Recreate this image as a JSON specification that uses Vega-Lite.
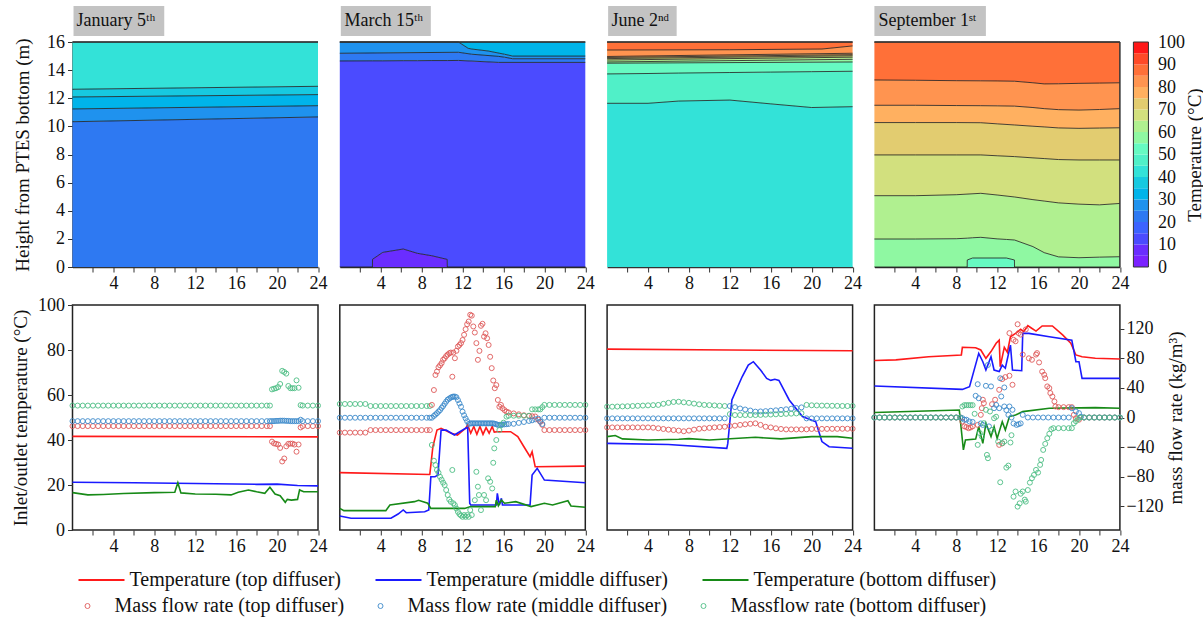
{
"$schema":"https://vega.github.io/schema/vega-lite/v6.json",
"padding":{"left":10.5,"top":6,"right":5,"bottom":3},
"config":{"font":"Liberation Serif","view":{"stroke":null},
 "axis":{"labelFont":"Liberation Serif","titleFont":"Liberation Serif","labelFontSize":18,"titleFontSize":19,"titleFontWeight":"normal","labelColor":"#111","titleColor":"#111","domainColor":"#333","tickColor":"#333","grid":false,"labelOverlap":false,"labelFlush":false},
 "legend":{"labelFont":"Liberation Serif","titleFont":"Liberation Serif","labelFontSize":20,"labelColor":"#111","titleColor":"#111"}},
"datasets":{
"tj":[{"h":0,"lo":0,"hi":10.33,"t":20},{"h":24,"lo":0,"hi":10.67,"t":20},{"h":0,"lo":10.33,"hi":11.24,"t":25},{"h":24,"lo":10.67,"hi":11.47,"t":25},{"h":0,"lo":11.24,"hi":12.09,"t":30},{"h":24,"lo":11.47,"hi":12.26,"t":30},{"h":0,"lo":12.09,"hi":12.64,"t":35},{"h":24,"lo":12.26,"hi":12.85,"t":35},{"h":0,"lo":12.64,"hi":16,"t":40},{"h":24,"lo":12.85,"hi":16,"t":40}],
"tm":[{"h":0,"lo":0,"hi":0,"t":5},{"h":3.19,"lo":0,"hi":0,"t":5},{"h":3.2,"lo":0,"hi":0.55,"t":5},{"h":4.2,"lo":0,"hi":1.04,"t":5},{"h":6.2,"lo":0,"hi":1.28,"t":5},{"h":7.6,"lo":0,"hi":0.97,"t":5},{"h":9,"lo":0,"hi":0.8,"t":5},{"h":10.5,"lo":0,"hi":0.54,"t":5},{"h":10.51,"lo":0,"hi":0,"t":5},{"h":24,"lo":0,"hi":0,"t":5},
{"h":0,"lo":0,"hi":14.65,"t":10},{"h":3.19,"lo":0,"hi":14.66,"t":10},{"h":3.2,"lo":0.55,"hi":14.66,"t":10},{"h":4.2,"lo":1.04,"hi":14.66,"t":10},{"h":6.2,"lo":1.28,"hi":14.67,"t":10},{"h":7.6,"lo":0.97,"hi":14.67,"t":10},{"h":9,"lo":0.8,"hi":14.68,"t":10},{"h":10.5,"lo":0.54,"hi":14.68,"t":10},{"h":10.51,"lo":0,"hi":14.68,"t":10},{"h":11.6,"lo":0,"hi":14.69,"t":10},{"h":15.5,"lo":0,"hi":14.55,"t":10},{"h":24,"lo":0,"hi":14.55,"t":10},
{"h":0,"lo":14.65,"hi":15.2,"t":20},{"h":11.6,"lo":14.69,"hi":15.27,"t":20},{"h":12.9,"lo":14.65,"hi":15.13,"t":20},{"h":15.5,"lo":14.55,"hi":14.98,"t":20},{"h":16.1,"lo":14.55,"hi":14.92,"t":20},{"h":16.9,"lo":14.55,"hi":14.81,"t":20},{"h":24,"lo":14.55,"hi":14.81,"t":20},
{"h":0,"lo":15.2,"hi":16,"t":25},{"h":11.6,"lo":15.27,"hi":16,"t":25},{"h":12.55,"lo":15.17,"hi":15.55,"t":25},{"h":12.9,"lo":15.13,"hi":15.5,"t":25},{"h":14.5,"lo":15.02,"hi":15.36,"t":25},{"h":16.1,"lo":14.92,"hi":15.13,"t":25},{"h":16.9,"lo":14.81,"hi":15.0,"t":25},{"h":24,"lo":14.81,"hi":15.0,"t":25},
{"h":0,"lo":16,"hi":16,"t":30},{"h":11.6,"lo":16,"hi":16,"t":30},{"h":12.55,"lo":15.55,"hi":16,"t":30},{"h":12.9,"lo":15.5,"hi":16,"t":30},{"h":14.5,"lo":15.36,"hi":16,"t":30},{"h":16.1,"lo":15.13,"hi":16,"t":30},{"h":16.9,"lo":15.0,"hi":16,"t":30},{"h":24,"lo":15.0,"hi":16,"t":30}],
"tn":[{"h":0,"lo":0,"hi":11.64,"t":40},{"h":4,"lo":0,"hi":11.64,"t":40},{"h":7,"lo":0,"hi":11.8,"t":40},{"h":12,"lo":0,"hi":11.87,"t":40},{"h":16,"lo":0,"hi":11.6,"t":40},{"h":20,"lo":0,"hi":11.34,"t":40},{"h":24,"lo":0,"hi":11.4,"t":40},
{"h":0,"lo":11.64,"hi":13.73,"t":45},{"h":4,"lo":11.64,"hi":13.76,"t":45},{"h":7,"lo":11.8,"hi":13.79,"t":45},{"h":12,"lo":11.87,"hi":13.83,"t":45},{"h":16,"lo":11.6,"hi":13.86,"t":45},{"h":20,"lo":11.34,"hi":13.89,"t":45},{"h":24,"lo":11.4,"hi":13.92,"t":45},
{"h":0,"lo":13.73,"hi":14.49,"t":50},{"h":24,"lo":13.92,"hi":14.58,"t":50},
{"h":0,"lo":14.49,"hi":14.58,"t":55},{"h":24,"lo":14.58,"hi":14.77,"t":55},
{"h":0,"lo":14.58,"hi":14.72,"t":60},{"h":24,"lo":14.77,"hi":14.92,"t":60},
{"h":0,"lo":14.72,"hi":14.82,"t":65},{"h":24,"lo":14.92,"hi":15.02,"t":65},
{"h":0,"lo":14.82,"hi":14.9,"t":70},{"h":24,"lo":15.02,"hi":15.1,"t":70},
{"h":0,"lo":14.9,"hi":14.97,"t":75},{"h":24,"lo":15.1,"hi":15.2,"t":75},
{"h":0,"lo":14.97,"hi":15.43,"t":80},{"h":12,"lo":15.08,"hi":15.45,"t":80},{"h":21,"lo":15.17,"hi":15.5,"t":80},{"h":24,"lo":15.2,"hi":15.72,"t":80},
{"h":0,"lo":15.43,"hi":16,"t":85},{"h":12,"lo":15.45,"hi":16,"t":85},{"h":21,"lo":15.5,"hi":16,"t":85},{"h":24,"lo":15.72,"hi":16,"t":85}],
"ts":[{"h":0,"lo":0,"hi":0,"t":50},{"h":9.07,"lo":0,"hi":0,"t":50},{"h":9.08,"lo":0,"hi":0.5,"t":50},{"h":9.6,"lo":0,"hi":0.64,"t":50},{"h":12.9,"lo":0,"hi":0.64,"t":50},{"h":13.69,"lo":0,"hi":0.5,"t":50},{"h":13.7,"lo":0,"hi":0,"t":50},{"h":24,"lo":0,"hi":0,"t":50},
{"h":0,"lo":0,"hi":1.99,"t":55},{"h":4,"lo":0,"hi":1.99,"t":55},{"h":8,"lo":0,"hi":2.01,"t":55},{"h":9.07,"lo":0,"hi":2.05,"t":55},{"h":9.08,"lo":0.5,"hi":2.05,"t":55},{"h":9.6,"lo":0.64,"hi":2.08,"t":55},{"h":10.4,"lo":0.64,"hi":2.11,"t":55},{"h":12,"lo":0.64,"hi":2.0,"t":55},{"h":12.9,"lo":0.64,"hi":1.96,"t":55},{"h":13.69,"lo":0.5,"hi":1.92,"t":55},{"h":13.7,"lo":0,"hi":1.92,"t":55},{"h":15.5,"lo":0,"hi":1.45,"t":55},{"h":16.6,"lo":0,"hi":1.02,"t":55},{"h":18,"lo":0,"hi":0.72,"t":55},{"h":20,"lo":0,"hi":0.66,"t":55},{"h":22,"lo":0,"hi":0.7,"t":55},{"h":24,"lo":0,"hi":0.73,"t":55},
{"h":0,"lo":1.99,"hi":5.07,"t":60},{"h":4,"lo":1.99,"hi":5.07,"t":60},{"h":8,"lo":2.01,"hi":5.14,"t":60},{"h":10.4,"lo":2.11,"hi":5.24,"t":60},{"h":12,"lo":2.0,"hi":5.12,"t":60},{"h":13.7,"lo":1.92,"hi":4.98,"t":60},{"h":15.5,"lo":1.45,"hi":4.79,"t":60},{"h":16.6,"lo":1.02,"hi":4.69,"t":60},{"h":18,"lo":0.72,"hi":4.56,"t":60},{"h":20,"lo":0.66,"hi":4.47,"t":60},{"h":22,"lo":0.7,"hi":4.42,"t":60},{"h":24,"lo":0.73,"hi":4.52,"t":60},
{"h":0,"lo":5.07,"hi":7.97,"t":65},{"h":4,"lo":5.07,"hi":7.97,"t":65},{"h":8,"lo":5.14,"hi":7.97,"t":65},{"h":10.4,"lo":5.24,"hi":7.97,"t":65},{"h":12,"lo":5.12,"hi":7.91,"t":65},{"h":13.7,"lo":4.98,"hi":7.85,"t":65},{"h":15.5,"lo":4.79,"hi":7.76,"t":65},{"h":16.6,"lo":4.69,"hi":7.71,"t":65},{"h":18,"lo":4.56,"hi":7.64,"t":65},{"h":20,"lo":4.47,"hi":7.61,"t":65},{"h":22,"lo":4.42,"hi":7.61,"t":65},{"h":24,"lo":4.52,"hi":7.61,"t":65},
{"h":0,"lo":7.97,"hi":10.27,"t":70},{"h":4,"lo":7.97,"hi":10.27,"t":70},{"h":8,"lo":7.97,"hi":10.27,"t":70},{"h":10.4,"lo":7.97,"hi":10.26,"t":70},{"h":12,"lo":7.91,"hi":10.18,"t":70},{"h":13.7,"lo":7.85,"hi":10.1,"t":70},{"h":15.5,"lo":7.76,"hi":10.01,"t":70},{"h":16.6,"lo":7.71,"hi":9.96,"t":70},{"h":18,"lo":7.64,"hi":9.89,"t":70},{"h":20,"lo":7.61,"hi":9.86,"t":70},{"h":22,"lo":7.61,"hi":9.88,"t":70},{"h":24,"lo":7.61,"hi":9.9,"t":70},
{"h":0,"lo":10.27,"hi":11.5,"t":75},{"h":4,"lo":10.27,"hi":11.5,"t":75},{"h":8,"lo":10.27,"hi":11.48,"t":75},{"h":10.4,"lo":10.26,"hi":11.47,"t":75},{"h":12,"lo":10.18,"hi":11.46,"t":75},{"h":13.7,"lo":10.1,"hi":11.44,"t":75},{"h":15.5,"lo":10.01,"hi":11.34,"t":75},{"h":16.6,"lo":9.96,"hi":11.26,"t":75},{"h":18,"lo":9.89,"hi":11.19,"t":75},{"h":20,"lo":9.86,"hi":11.16,"t":75},{"h":22,"lo":9.88,"hi":11.2,"t":75},{"h":24,"lo":9.9,"hi":11.26,"t":75},
{"h":0,"lo":11.5,"hi":13.3,"t":80},{"h":4,"lo":11.5,"hi":13.28,"t":80},{"h":8,"lo":11.48,"hi":13.25,"t":80},{"h":10.4,"lo":11.47,"hi":13.24,"t":80},{"h":12,"lo":11.46,"hi":13.23,"t":80},{"h":13.7,"lo":11.44,"hi":13.21,"t":80},{"h":15.5,"lo":11.34,"hi":13.1,"t":80},{"h":16.6,"lo":11.26,"hi":13.02,"t":80},{"h":18,"lo":11.19,"hi":13.03,"t":80},{"h":20,"lo":11.16,"hi":13.06,"t":80},{"h":22,"lo":11.2,"hi":13.08,"t":80},{"h":24,"lo":11.26,"hi":13.1,"t":80},
{"h":0,"lo":13.3,"hi":16,"t":85},{"h":4,"lo":13.28,"hi":16,"t":85},{"h":8,"lo":13.25,"hi":16,"t":85},{"h":10.4,"lo":13.24,"hi":16,"t":85},{"h":12,"lo":13.23,"hi":16,"t":85},{"h":13.7,"lo":13.21,"hi":16,"t":85},{"h":15.5,"lo":13.1,"hi":16,"t":85},{"h":16.6,"lo":13.02,"hi":16,"t":85},{"h":18,"lo":13.03,"hi":16,"t":85},{"h":20,"lo":13.06,"hi":16,"t":85},{"h":22,"lo":13.08,"hi":16,"t":85},{"h":24,"lo":13.1,"hi":16,"t":85}],
"cbar":[{"t":0,"t2":5},{"t":5,"t2":10},{"t":10,"t2":15},{"t":15,"t2":20},{"t":20,"t2":25},{"t":25,"t2":30},{"t":30,"t2":35},{"t":35,"t2":40},{"t":40,"t2":45},{"t":45,"t2":50},{"t":50,"t2":55},{"t":55,"t2":60},{"t":60,"t2":65},{"t":65,"t2":70},{"t":70,"t2":75},{"t":75,"t2":80},{"t":80,"t2":85},{"t":85,"t2":90},{"t":90,"t2":95},{"t":95,"t2":100}],
"bj":[{"h":0,"tt":41.6,"tm":21.2,"tb":16.6},{"h":1.5,"tb":15.6},{"h":3,"tb":15.8},{"h":5,"tb":16.2},{"h":6,"tm":21.0},{"h":8,"tb":16.6},{"h":10,"tb":16.8},{"h":10.3,"tb":21},{"h":10.6,"tb":16.5},{"h":12,"tm":20.7,"tb":16},{"h":14,"tb":15.9},{"h":15.5,"tb":15.6},{"h":16.2,"tb":16.8},{"h":17.2,"tb":17.8},{"h":18,"tm":20.3,"tb":17},{"h":18.8,"tb":16.3},{"h":19.3,"tb":19},{"h":19.8,"tb":16},{"h":20,"tm":20.4},{"h":20.3,"tb":15.2},{"h":20.8,"tb":12.3},{"h":21,"tb":13.6},{"h":21.4,"tb":13.3},{"h":22,"tm":19.8,"tb":13.6},{"h":22.2,"tb":17.8},{"h":22.6,"tb":17},{"h":24,"tt":41.4,"tm":19.6,"tb":17},
{"h":0,"mt":-11.6,"mm":-4.9,"mb":16.1},{"h":0.5,"mt":-11.6,"mm":-4.9,"mb":16.1},{"h":1,"mt":-11.6,"mm":-4.9,"mb":16.1},{"h":1.5,"mt":-11.6,"mm":-4.9,"mb":16.1},{"h":2,"mt":-11.6,"mm":-4.9,"mb":16.1},{"h":2.5,"mt":-11.6,"mm":-4.9,"mb":16.1},{"h":3,"mt":-11.6,"mm":-4.9,"mb":16.1},{"h":3.5,"mt":-11.6,"mm":-4.9,"mb":16.1},{"h":4,"mt":-11.6,"mm":-4.9,"mb":16.1},{"h":4.5,"mt":-11.6,"mm":-4.9,"mb":16.1},{"h":5,"mt":-11.6,"mm":-4.9,"mb":16.1},{"h":5.5,"mt":-11.6,"mm":-4.9,"mb":16.1},{"h":6,"mt":-11.6,"mm":-4.9,"mb":16.1},{"h":6.5,"mt":-11.6,"mm":-4.9,"mb":16.1},{"h":7,"mt":-11.6,"mm":-4.9,"mb":16.1},{"h":7.5,"mt":-11.6,"mm":-4.9,"mb":16.1},{"h":8,"mt":-11.6,"mm":-4.9,"mb":16.1},{"h":8.5,"mt":-11.6,"mm":-4.9,"mb":16.1},{"h":9,"mt":-11.6,"mm":-4.9,"mb":16.1},{"h":9.5,"mt":-11.6,"mm":-4.9,"mb":16.1},{"h":10,"mt":-11.6,"mm":-4.9,"mb":16.1},{"h":10.5,"mt":-11.6,"mm":-4.9,"mb":16.1},{"h":11,"mt":-11.6,"mm":-4.9,"mb":16.1},{"h":11.5,"mt":-11.6,"mm":-4.9,"mb":16.1},{"h":12,"mt":-11.6,"mm":-4.9,"mb":16.1},{"h":12.5,"mt":-11.6,"mm":-4.9,"mb":16.1},{"h":13,"mt":-11.6,"mm":-4.9,"mb":16.1},{"h":13.5,"mt":-11.6,"mm":-4.9,"mb":16.1},{"h":14,"mt":-11.6,"mm":-4.9,"mb":16.1},{"h":14.5,"mt":-11.6,"mm":-4.9,"mb":16.1},{"h":15,"mt":-11.6,"mm":-4.9,"mb":16.1},{"h":15.5,"mt":-11.6,"mm":-4.9,"mb":16.1},{"h":16,"mt":-11.6,"mm":-4.9,"mb":16.1},{"h":16.5,"mt":-11.6,"mm":-4.9,"mb":16.1},{"h":17,"mt":-11.6,"mm":-4.9,"mb":16.1},{"h":17.5,"mt":-11.6,"mm":-4.9,"mb":16.1},{"h":18,"mt":-11.6,"mm":-4.9,"mb":16.1},{"h":18.5,"mt":-11.6,"mm":-4.9,"mb":16.1},{"h":19,"mt":-11.6,"mm":-4.9,"mb":16.1},{"h":19.3,"mt":-11.6,"mm":-4.9,"mb":16.1},
{"h":19.5,"mt":-32.6,"mm":-4.9,"mb":38.0},{"h":19.7,"mt":-35.0,"mm":-4.9,"mb":38.9},{"h":19.9,"mt":-35.6,"mm":-4.6,"mb":39.6},{"h":20.1,"mt":-36.5,"mm":-4.6,"mb":41.1},{"h":20.3,"mt":-41.1,"mm":-4.3,"mb":45.3},{"h":20.5,"mt":-59.4,"mm":-4.3,"mb":63.0},{"h":20.7,"mt":-55.4,"mm":-4.3,"mb":61.5},{"h":20.9,"mt":-38.9,"mm":-4.6,"mb":59.3},{"h":21.1,"mt":-35.6,"mm":-4.6,"mb":42.6},{"h":21.3,"mt":-35.3,"mm":-4.9,"mb":39.6},{"h":21.5,"mt":-35.3,"mm":-4.9,"mb":39.6},{"h":21.7,"mt":-36.5,"mm":-4.9,"mb":39.6},{"h":21.9,"mt":-46.2,"mm":-4.9,"mb":50.2},{"h":22.1,"mt":-36.5,"mm":-4.9,"mb":40.2},{"h":22.3,"mt":-13.4,"mm":-3.0,"mb":16.7},{"h":22.5,"mt":-11.6,"mm":-4.9,"mb":16.1},{"h":23,"mt":-11.6,"mm":-4.9,"mb":16.1},{"h":23.5,"mt":-11.6,"mm":-4.9,"mb":16.1},{"h":24,"mt":-11.6,"mm":-4.9,"mb":16.1}],
"bm":[{"h":0,"tt":25.5,"tm":6.2,"tb":9.6},{"h":0.4,"tb":8.6},{"h":1.1,"tm":5.2},{"h":4.5,"tb":8.6},{"h":4.9,"tb":11.1},{"h":5,"tm":5.2},{"h":5.7,"tm":7.1},{"h":6.2,"tm":8.9},{"h":6.5,"tm":7.7},{"h":7.3,"tb":12.6},{"h":7.7,"tb":13.2},{"h":8.3,"tm":8.1},{"h":8.6,"tb":11.9},{"h":8.7,"tm":8.9},{"h":8.8,"tt":24.7},{"h":8.9,"tm":23.7,"tb":9.6},{"h":9.1,"tt":37},{"h":9.3,"tm":23.7},{"h":9.5,"tt":44.4},{"h":9.6,"tm":24.4},{"h":9.9,"tt":45.2,"tm":44.4},{"h":10.4,"tm":44.4},{"h":10.9,"tt":43},{"h":11.2,"tm":42.2},{"h":11.5,"tt":42.2},{"h":12.2,"tb":9.6},{"h":12.3,"tt":45.2,"tm":45.2},{"h":12.5,"tt":46.7,"tm":45.6},{"h":12.7,"tm":11.9},{"h":12.8,"tt":43,"tm":11.1,"tb":10.4},{"h":13.1,"tt":46},{"h":13.4,"tt":42.5},{"h":13.7,"tt":46},{"h":14.0,"tt":42.5},{"h":14.3,"tt":45.5},{"h":14.6,"tt":43},{"h":14.9,"tt":46},{"h":15.1,"tt":43.5},{"h":15.2,"tb":10.4},{"h":15.3,"tm":11.1,"tb":13.3},{"h":15.4,"tt":43.7,"tm":16.3},{"h":15.5,"tb":10.8},{"h":15.6,"tm":11.1},{"h":15.8,"tm":14.1,"tb":13.3},{"h":15.9,"tm":11.1},{"h":16.1,"tb":11.9},{"h":16.7,"tt":43.7},{"h":17.2,"tb":12.6},{"h":17.4,"tt":41.5},{"h":18,"tt":37},{"h":18.6,"tt":32.6,"tm":11.1},{"h":18.7,"tb":10.4},{"h":18.8,"tt":34.8,"tm":24.4},{"h":19.1,"tt":28.1},{"h":19.3,"tm":27.4},{"h":20,"tm":22.2,"tb":11.9},{"h":20.8,"tb":11.1},{"h":22.3,"tb":13},{"h":22.6,"tb":10.7},{"h":24,"tt":28.4,"tm":21,"tb":10.1},
{"h":0,"mt":-20.4,"mm":-0.3,"mb":18.3},{"h":0.5,"mt":-20.4,"mm":-0.3,"mb":18.3},{"h":1,"mt":-20.4,"mm":-0.3,"mb":18.3},{"h":1.5,"mt":-20.4,"mm":-0.3,"mb":18.3},{"h":2,"mt":-20.4,"mm":-0.3,"mb":18.3},{"h":2.5,"mt":-20.4,"mm":-0.3,"mb":18.3},{"h":3,"mt":-17,"mm":-0.3,"mb":15.5},{"h":3.5,"mt":-17,"mm":-0.3,"mb":15.5},{"h":4,"mt":-17,"mm":-0.3,"mb":15.5},{"h":4.5,"mt":-17,"mm":-0.3,"mb":15.5},{"h":5,"mt":-17,"mm":-0.3,"mb":15.5},{"h":5.5,"mt":-17,"mm":-0.3,"mb":15.5},{"h":6,"mt":-17,"mm":-0.3,"mb":15.5},{"h":6.5,"mt":-17,"mm":-0.3,"mb":15.5},{"h":7,"mt":-17,"mm":-0.3,"mb":15.5},{"h":7.5,"mt":-17,"mm":-0.3,"mb":15.5},{"h":8,"mt":-17,"mm":-0.3,"mb":15.5},{"h":8.5,"mt":-17,"mm":-0.3,"mb":15.5},{"h":8.8,"mt":-17,"mm":-0.3,"mb":15.5},
{"h":9.0,"mt":17.0,"mm":-0.3,"mb":-37.1},{"h":9.2,"mt":37.1,"mm":2.1,"mb":-58.4},{"h":9.35,"mt":57.5,"mm":4.0,"mb":-64.2},{"h":9.5,"mt":62.1,"mm":5.8,"mb":-70.9},{"h":9.65,"mt":67.9,"mm":8.0,"mb":-74.6},{"h":9.8,"mt":70.5,"mm":10.0,"mb":-80.1},{"h":9.95,"mt":73.4,"mm":13.0,"mb":-84},{"h":10.1,"mt":77.9,"mm":15.5,"mb":-88},{"h":10.25,"mt":80,"mm":18.5,"mb":-91.3},{"h":10.4,"mt":83,"mm":21.5,"mb":-98},{"h":10.55,"mt":85,"mm":24.2,"mb":-104.7},{"h":10.7,"mt":86.8,"mm":25.5,"mb":-110.8},{"h":10.85,"mt":87.7,"mm":27.0,"mb":-113.8},{"h":11.0,"mt":55.1,"mm":27.8,"mb":-70.9},{"h":11.1,"mt":87.7,"mm":28.3,"mb":-116},{"h":11.25,"mt":80.1,"mm":28.3,"mb":-118.4},{"h":11.4,"mt":90.1,"mm":27.4,"mb":-123},{"h":11.55,"mt":95.9,"mm":23.5,"mb":-127.5},{"h":11.7,"mt":98,"mm":19,"mb":-130.6},{"h":11.85,"mt":100.5,"mm":14.6,"mb":-132.5},{"h":12.0,"mt":104.7,"mm":7.9,"mb":-134.2},{"h":12.15,"mt":111.7,"mm":3,"mb":-131.8},{"h":12.3,"mt":119.3,"mm":-1.2,"mb":-134.2},{"h":12.45,"mt":126,"mm":-5,"mb":-131.8},{"h":12.6,"mt":129.7,"mm":-8.8,"mb":-134.2},{"h":12.75,"mt":138.8,"mm":-7.9,"mb":-125.1},{"h":12.9,"mt":137.6,"mm":-7.9,"mb":-131.8},{"h":13.05,"mt":123,"mm":-7.9},{"h":13.2,"mt":114.8,"mm":-7.9,"mb":-111.7},{"h":13.35,"mt":100.5,"mm":-7.9,"mb":-73.4},{"h":13.5,"mt":77.9,"mm":-7.9,"mb":-93.5},{"h":13.6,"mb":-104.7},{"h":13.65,"mt":90,"mm":-7.9},{"h":13.8,"mt":123.9,"mm":-7.9,"mb":-125.1},{"h":13.95,"mt":126.6,"mm":-7.9},{"h":14.1,"mt":109.3,"mm":-7.9,"mb":-104.7},{"h":14.25,"mt":113.8,"mm":-7.9},{"h":14.3,"mb":-111.7},{"h":14.4,"mt":107,"mm":-7.9},{"h":14.5,"mb":-82.2},{"h":14.55,"mt":98,"mm":-7.9},{"h":14.7,"mt":82,"mm":-7.9,"mb":-86.8},{"h":14.85,"mt":66.7,"mm":-7.9},{"h":14.9,"mb":-95.9},{"h":15.0,"mt":50,"mm":-8,"mb":-61.2},{"h":15.1,"mb":-41.7},{"h":15.15,"mt":39.6,"mm":-8.5},{"h":15.3,"mt":43.8,"mm":-9,"mb":-30.4},{"h":15.45,"mt":23.7,"mm":-10},{"h":15.6,"mt":14.6,"mm":-10,"mb":-17},{"h":15.75,"mt":17,"mm":-10},{"h":15.8,"mb":-10},{"h":15.9,"mt":12.5,"mm":-9.5},{"h":16.0,"mb":-7},{"h":16.1,"mt":10,"mm":-9.3},{"h":16.3,"mt":7.9,"mm":-9,"mb":1.2},{"h":16.5,"mt":6.8,"mm":-8.8,"mb":2.4},{"h":17,"mt":5.5,"mm":-8.5,"mb":2.4},{"h":17.5,"mt":4.3,"mm":-7.3,"mb":2.4},{"h":18,"mt":3,"mm":-6.1,"mb":2.4},{"h":18.5,"mt":2.1,"mm":-4.7,"mb":2.4},{"h":18.8,"mt":1.7,"mm":-3.8,"mb":11},{"h":19.1,"mt":1.4,"mm":-2.5,"mb":11},{"h":19.4,"mt":-3,"mm":-1.5,"mb":11},{"h":19.6,"mt":-5.8,"mm":-5.5,"mb":11},{"h":19.8,"mt":-10,"mm":-8.8,"mb":14},
{"h":20,"mt":-17,"mm":-0.3,"mb":17},{"h":20.5,"mt":-17,"mm":-0.3,"mb":17},{"h":21,"mt":-17,"mm":-0.3,"mb":17},{"h":21.5,"mt":-17,"mm":-0.3,"mb":17},{"h":22,"mt":-17,"mm":-0.3,"mb":17},{"h":22.5,"mt":-17,"mm":-0.3,"mb":17},{"h":23,"mt":-17,"mm":-0.3,"mb":17},{"h":23.5,"mt":-17,"mm":-0.3,"mb":17},{"h":24,"mt":-17,"mm":-0.3,"mb":17}],
"bn":[{"h":0,"tt":80.4,"tm":38.5,"tb":41.5},{"h":0.8,"tb":42},{"h":1.5,"tb":40.5},{"h":4,"tb":40},{"h":6,"tm":38},{"h":7,"tb":40.3},{"h":8,"tb":40.6},{"h":10,"tb":40},{"h":11.7,"tm":36.3},{"h":11.8,"tm":38.5},{"h":12,"tt":80},{"h":12.2,"tm":57.8},{"h":13.2,"tm":68.1},{"h":13.8,"tm":73.3},{"h":14.3,"tm":74.8},{"h":14.5,"tb":41.2},{"h":15,"tm":71.1},{"h":15.6,"tm":67.4},{"h":16,"tm":66.5},{"h":16.4,"tm":67},{"h":16.8,"tm":66.5},{"h":17,"tb":40.5},{"h":17.8,"tm":57.8},{"h":19.1,"tm":50.4},{"h":20,"tb":41.5},{"h":20.4,"tm":48.1},{"h":21,"tm":39.3},{"h":21.7,"tm":37},{"h":22.5,"tb":41.5},{"h":24,"tt":79.7,"tm":36.3,"tb":40.8},
{"h":0,"mt":-13.4,"mm":-1.2,"mb":14.6},{"h":0.5,"mt":-13.4,"mm":-1.2,"mb":14.6},{"h":1,"mt":-13.4,"mm":-1.2,"mb":14.8},{"h":1.5,"mt":-13.4,"mm":-1.2,"mb":15},{"h":2,"mt":-13.4,"mm":-1.2,"mb":15.2},{"h":2.5,"mt":-13.4,"mm":-1.2,"mb":15.5},{"h":3,"mt":-13.4,"mm":-1.2,"mb":15.8},{"h":3.5,"mt":-13.4,"mm":-1.2,"mb":16.1},{"h":4,"mt":-13.4,"mm":-1.2,"mb":16.4},{"h":4.5,"mt":-13.8,"mm":-1.2,"mb":16.7},{"h":5,"mt":-14.6,"mm":-1.2,"mb":17},{"h":5.5,"mt":-15.5,"mm":-1.2,"mb":18.5},{"h":6,"mt":-16.4,"mm":-1.2,"mb":19.8},{"h":6.5,"mt":-17,"mm":-1.2,"mb":21},{"h":7,"mt":-17.7,"mm":-1.2,"mb":21.3},{"h":7.5,"mt":-18.6,"mm":-1.2,"mb":20.5},{"h":8,"mt":-17.7,"mm":-1.2,"mb":19.8},{"h":8.5,"mt":-16.4,"mm":-1.2,"mb":18.8},{"h":9,"mt":-15.2,"mm":-1.2,"mb":17.8},{"h":9.5,"mt":-14.6,"mm":-1.2,"mb":17},{"h":10,"mt":-14,"mm":-1.2,"mb":16.7},{"h":10.5,"mt":-13.4,"mm":-1.2,"mb":16.3},{"h":11,"mt":-13,"mm":-1.2,"mb":15.8},{"h":11.5,"mt":-12.5,"mm":-1.2,"mb":15.5},
{"h":12,"mt":-11.5,"mm":15.5,"mb":4.6},{"h":12.5,"mt":-11,"mm":14,"mb":3.3},{"h":13,"mt":-10,"mm":12.2,"mb":3.3},{"h":13.5,"mt":-9.2,"mm":10.8,"mb":3.3},{"h":14,"mt":-8.5,"mm":9.4,"mb":3.3},{"h":14.5,"mt":-7.9,"mm":7.9,"mb":3.3},{"h":15,"mt":-10,"mm":8.2,"mb":3.5},{"h":15.5,"mt":-12.5,"mm":8.6,"mb":3.8},{"h":16,"mt":-13.4,"mm":9.1,"mb":4.0},{"h":16.5,"mt":-14.6,"mm":9.7,"mb":4.3},{"h":17,"mt":-15.5,"mm":10.3,"mb":4.6},{"h":17.5,"mt":-16.1,"mm":11.1,"mb":4.9},{"h":18,"mt":-16.1,"mm":11.9,"mb":5.2},{"h":18.5,"mt":-16.1,"mm":12.8,"mb":5.5},{"h":19,"mt":-16.1,"mm":13.7,"mb":5.8},{"h":19.5,"mt":-16,"mm":-1.2,"mb":17},
{"h":20,"mt":-15.5,"mm":-1.2,"mb":16.5},{"h":20.5,"mt":-15.5,"mm":-1.2,"mb":16.3},{"h":21,"mt":-15.4,"mm":-1.2,"mb":16.1},{"h":21.5,"mt":-15.4,"mm":-1.2,"mb":16},{"h":22,"mt":-15.3,"mm":-1.2,"mb":15.8},{"h":22.5,"mt":-15.3,"mm":-1.2,"mb":15.7},{"h":23,"mt":-15.2,"mm":-1.2,"mb":15.6},{"h":23.5,"mt":-15.2,"mm":-1.2,"mb":15.5},{"h":24,"mt":-15.2,"mm":-1.2,"mb":15.5}],
"bs":[{"h":0,"tt":75.3,"tm":64,"tb":52.2},{"h":2.1,"tt":75.6},{"h":5.3,"tt":77},{"h":8.3,"tb":53.3},{"h":8.5,"tt":77.8},{"h":8.6,"tt":81.2,"tm":62.5,"tb":40},{"h":8.7,"tb":35.6},{"h":8.9,"tb":40},{"h":9.3,"tm":63.7},{"h":9.9,"tt":81,"tb":40.4},{"h":10.2,"tm":78.5,"tb":45.9},{"h":10.4,"tt":80},{"h":10.6,"tm":74.8,"tb":38.5},{"h":10.9,"tt":76.3,"tm":71.1,"tb":47.4},{"h":11.4,"tt":79.3,"tm":77,"tb":41.5},{"h":11.7,"tm":71.1,"tb":45.9},{"h":11.9,"tt":83},{"h":12.0,"tb":40.7},{"h":12.2,"tt":84.4,"tm":70.4},{"h":12.3,"tt":72.6},{"h":12.5,"tm":73.3,"tb":48.1},{"h":12.7,"tt":81.2},{"h":12.8,"tm":71.9,"tb":44.4},{"h":13.0,"tt":79},{"h":13.2,"tb":50.4},{"h":13.3,"tt":85.9,"tm":82.2},{"h":13.5,"tm":71.1},{"h":13.8,"tt":87.4,"tb":51.1},{"h":14.3,"tt":89.2},{"h":14.4,"tm":70.8},{"h":14.5,"tm":87.4,"tb":52.6},{"h":14.6,"tt":88.2},{"h":15.0,"tt":90.8},{"h":15.1,"tm":87.4},{"h":15.3,"tt":89.9},{"h":15.8,"tt":88.4},{"h":16.4,"tt":90.7},{"h":17.1,"tm":85.9,"tb":54.1},{"h":17.4,"tt":90.7},{"h":18.4,"tt":86.7},{"h":19.2,"tt":83},{"h":19.3,"tm":84.4},{"h":19.7,"tt":77.8,"tm":74.8},{"h":20.0,"tm":74.8},{"h":20.3,"tt":77,"tm":67.4},{"h":21.6,"tt":76.3,"tb":54.4},{"h":24,"tt":76,"tm":67.4,"tb":54.1},
{"h":0,"mt":0,"mm":0,"mb":0},{"h":0.5,"mt":0,"mm":0,"mb":0},{"h":1,"mt":0,"mm":0,"mb":0},{"h":1.5,"mt":0,"mm":0,"mb":0},{"h":2,"mt":0,"mm":0,"mb":0},{"h":2.5,"mt":0,"mm":0,"mb":0},{"h":3,"mt":0,"mm":0,"mb":0},{"h":3.5,"mt":0,"mm":0,"mb":0},{"h":4,"mt":0,"mm":0,"mb":0},{"h":4.5,"mt":0,"mm":0,"mb":0},{"h":5,"mt":0,"mm":0,"mb":0},{"h":5.5,"mt":0,"mm":0,"mb":0},{"h":6,"mt":0,"mm":0,"mb":0},{"h":6.5,"mt":0,"mm":0,"mb":0},{"h":7,"mt":0,"mm":0,"mb":0},{"h":7.5,"mt":0,"mm":0,"mb":0},{"h":8,"mt":0,"mm":0,"mb":0},{"h":8.4,"mt":0,"mm":0,"mb":0},
{"h":8.6,"mt":-5.4},{"h":8.8,"mt":-12},{"h":9.0,"mt":-13},{"h":9.2,"mt":-14.4},{"h":9.4,"mt":-13.5},{"h":9.6,"mt":-12},{"h":10.1,"mt":-10},{"h":10.4,"mt":3.6},{"h":10.5,"mt":12.6},{"h":10.6,"mt":24},{"h":10.7,"mt":19.4},{"h":11.5,"mt":18},{"h":11.8,"mt":24},{"h":12.2,"mt":37.4},{"h":12.2,"mt":-37},{"h":12.5,"mt":51.9},{"h":12.5,"mt":-35},{"h":12.8,"mt":54.6},{"h":13.2,"mt":56.4},{"h":13.2,"mt":114},{"h":13.5,"mt":44.2},{"h":13.6,"mt":105},{"h":13.8,"mt":103},{"h":14.0,"mt":126},{"h":14.1,"mt":114},{"h":14.3,"mt":112},{"h":14.5,"mt":85},{"h":14.8,"mt":119},{"h":15.1,"mt":80},{"h":15.4,"mt":78},{"h":15.8,"mt":85},{"h":15.9,"mt":87},{"h":16.1,"mt":74.4},{"h":16.4,"mt":62},{"h":16.6,"mt":57.7},{"h":16.7,"mt":53.2},{"h":16.9,"mt":42},{"h":17.1,"mt":39.7},{"h":17.2,"mt":33},{"h":17.4,"mt":28.4},{"h":17.6,"mt":21.7},{"h":17.7,"mt":14.9},{"h":18.0,"mt":14},{"h":18.5,"mt":14},{"h":19.0,"mt":14},{"h":19.3,"mt":14},{"h":19.5,"mt":3.6},{"h":19.7,"mt":-1},{"h":20.0,"mt":-3},
{"h":8.6,"mm":-1},{"h":8.8,"mm":-3},{"h":9.0,"mm":-3},{"h":9.3,"mm":-5.4},{"h":9.6,"mm":-6},{"h":9.9,"mm":29.3},{"h":10.1,"mm":45},{"h":10.2,"mm":26},{"h":10.4,"mm":-8},{"h":10.6,"mm":-10},{"h":10.9,"mm":42.8},{"h":11.1,"mm":71},{"h":11.2,"mm":-12},{"h":11.4,"mm":42},{"h":11.7,"mm":12.6},{"h":11.9,"mm":17},{"h":12.2,"mm":12.6},{"h":12.3,"mm":53},{"h":12.4,"mm":28.4},{"h":12.7,"mm":40.6},{"h":12.7,"mm":14.9},{"h":12.9,"mm":10},{"h":13.1,"mm":3.6},{"h":13.2,"mm":14.9},{"h":13.4,"mm":0},{"h":13.5,"mm":10.4},{"h":13.6,"mm":-8},{"h":13.9,"mm":-10},{"h":14.1,"mm":-9},{"h":14.3,"mm":-8},{"h":14.5,"mm":3.6},{"h":15,"mm":0},{"h":15.5,"mm":0},{"h":16,"mm":0},{"h":16.5,"mm":0},{"h":17,"mm":0},{"h":17.5,"mm":0},{"h":18,"mm":0},{"h":18.5,"mm":0},{"h":19,"mm":0},{"h":19.3,"mm":12.6},{"h":19.7,"mm":8.1},{"h":20.0,"mm":5.9},{"h":20.2,"mm":1},
{"h":8.6,"mb":14.9},{"h":8.8,"mb":16.7},{"h":9.0,"mb":16.7},{"h":9.2,"mb":16.7},{"h":9.4,"mb":16.7},{"h":9.6,"mb":16.7},{"h":9.8,"mb":5},{"h":10.1,"mb":-37},{"h":10.3,"mb":-21},{"h":10.5,"mb":-25.7},{"h":10.7,"mb":-7.7},{"h":10.9,"mb":10.4},{"h":11.0,"mb":-50.5},{"h":11.1,"mb":-55},{"h":11.3,"mb":8.1},{"h":11.5,"mb":-16.7},{"h":11.7,"mb":-1},{"h":11.9,"mb":1},{"h":12.1,"mb":-32.5},{"h":12.3,"mb":-87.5},{"h":12.5,"mb":-34.7},{"h":12.7,"mb":-32.5},{"h":12.9,"mb":-67.7},{"h":13.1,"mb":-65},{"h":13.3,"mb":-33.8},{"h":13.4,"mb":-23.9},{"h":13.6,"mb":-107},{"h":13.8,"mb":-100},{"h":14.0,"mb":-120.4},{"h":14.2,"mb":-116},{"h":14.3,"mb":-103},{"h":14.5,"mb":-100},{"h":14.7,"mb":-111},{"h":14.8,"mb":-113.7},{"h":15.0,"mb":-98},{"h":15.2,"mb":-88},{"h":15.4,"mb":-82},{"h":15.6,"mb":-77.6},{"h":15.8,"mb":-70.8},{"h":16.0,"mb":-74.4},{"h":16.2,"mb":-64},{"h":16.3,"mb":-57.3},{"h":16.5,"mb":-43.8},{"h":16.7,"mb":-35.6},{"h":16.9,"mb":-28},{"h":17.1,"mb":-22},{"h":17.3,"mb":-15.8},{"h":17.5,"mb":-14.4},{"h":18.0,"mb":-14.4},{"h":18.5,"mb":-14.4},{"h":19.0,"mb":-14.4},{"h":19.3,"mb":-14.4},{"h":19.5,"mb":-7.7},{"h":19.7,"mb":-5},{"h":19.9,"mb":-2},{"h":20.1,"mb":0},
{"h":20.5,"mt":0,"mm":0,"mb":0},{"h":21,"mt":0,"mm":0,"mb":0},{"h":21.5,"mt":0,"mm":0,"mb":0},{"h":22,"mt":0,"mm":0,"mb":0},{"h":22.5,"mt":0,"mm":0,"mb":0},{"h":23,"mt":0,"mm":0,"mb":0},{"h":23.5,"mt":0,"mm":0,"mb":0},{"h":24,"mt":0,"mm":0,"mb":0}]
},
"concat":[
  {"width":245.5,"height":225,"layer":[
   {"data":{"name":"tj"},"mark":{"type":"area","interpolate":"linear","opacity":1},"encoding":{
     "x":{"field":"h","type":"quantitative","scale":{"domain":[0,24],"nice":false},"axis":{"values":[2,4,6,8,10,12,14,16,18,20,22,24],"labelExpr":"datum.value % 4 == 0 ? datum.label : ''","title":null,"tickSize":5,"labelPadding":2,"labelOverlap":false,"labelFlush":false,"domainWidth":1.5}},
     "y":{"field":"lo","type":"quantitative","scale":{"domain":[0,16],"nice":false},"axis":{"values":[0,2,4,6,8,10,12,14,16],"title":"Height from PTES bottom (m)","tickSize":5,"labelPadding":3,"titlePadding":14.5,"labelOverlap":false,"domainWidth":1.5}},
     "y2":{"field":"hi"},
     "fill":{"field":"t","type":"quantitative","scale":{"type":"quantize","domain":[0,100],"nice":false,"zero":false,"range":["#7b22ff","#6a2dff","#4b4bff","#3c63ff","#2e79f2","#1f92ee","#00b4ea","#17c9e0","#33e2d8","#50f0c8","#66fac2","#8ff8a2","#b0f090","#d2e07e","#e2cc70","#ffb060","#ff9450","#ff7038","#ff4a28","#ff1818"]},"legend":null}}},
   {"data":{"name":"tj"},"mark":{"type":"line","color":"#1a1a1a","strokeWidth":0.8},"encoding":{
     "x":{"field":"h","type":"quantitative","scale":{"domain":[0,24],"nice":false},"axis":{"values":[2,4,6,8,10,12,14,16,18,20,22,24],"labelExpr":"datum.value % 4 == 0 ? datum.label : ''","title":null,"tickSize":5,"labelPadding":2,"labelOverlap":false,"labelFlush":false,"domainWidth":1.5}},
     "y":{"field":"hi","type":"quantitative","scale":{"domain":[0,16],"nice":false},"axis":{"values":[0,2,4,6,8,10,12,14,16],"title":"Height from PTES bottom (m)","tickSize":5,"labelPadding":3,"titlePadding":14.5,"labelOverlap":false,"domainWidth":1.5}},"detail":{"field":"t","type":"nominal"}}},
   {"data":{"values":[{}]},"mark":{"type":"rule","color":"#333","strokeWidth":1.5},"encoding":{"y":{"datum":16,"type":"quantitative","axis":{"values":[0,2,4,6,8,10,12,14,16],"title":"Height from PTES bottom (m)","tickSize":5,"labelPadding":3,"titlePadding":14.5,"labelOverlap":false,"domainWidth":1.5}}}},
   {"data":{"values":[{"lab":"January 5ᵗʰ"}]},"mark":{"type":"rect","color":"#c3c3c3"},"encoding":{
     "x":{"datum":0.1,"type":"quantitative","axis":{"values":[2,4,6,8,10,12,14,16,18,20,22,24],"labelExpr":"datum.value % 4 == 0 ? datum.label : ''","title":null,"tickSize":5,"labelPadding":2,"labelOverlap":false,"labelFlush":false,"domainWidth":1.5}},"x2":{"datum":8.97},
     "y":{"datum":16.43,"type":"quantitative","axis":{"values":[0,2,4,6,8,10,12,14,16],"title":"Height from PTES bottom (m)","tickSize":5,"labelPadding":3,"titlePadding":14.5,"labelOverlap":false,"domainWidth":1.5}},"y2":{"datum":18.56}}},
   {"data":{"values":[{"lab":"January 5ᵗʰ"}]},"mark":{"type":"text","align":"left","baseline":"middle","fontSize":18,"color":"#111"},"encoding":{
     "x":{"datum":0.4,"type":"quantitative","axis":{"values":[2,4,6,8,10,12,14,16,18,20,22,24],"labelExpr":"datum.value % 4 == 0 ? datum.label : ''","title":null,"tickSize":5,"labelPadding":2,"labelOverlap":false,"labelFlush":false,"domainWidth":1.5}},
     "y":{"datum":17.49,"type":"quantitative","axis":{"values":[0,2,4,6,8,10,12,14,16],"title":"Height from PTES bottom (m)","tickSize":5,"labelPadding":3,"titlePadding":14.5,"labelOverlap":false,"domainWidth":1.5}},"text":{"field":"lab"}}}
  ]},
  {"width":245.5,"height":225,"layer":[
   {"data":{"name":"tm"},"mark":{"type":"area","interpolate":"linear","opacity":1},"encoding":{
     "x":{"field":"h","type":"quantitative","scale":{"domain":[0,24],"nice":false},"axis":{"values":[2,4,6,8,10,12,14,16,18,20,22,24],"labelExpr":"datum.value % 4 == 0 ? datum.label : ''","title":null,"tickSize":5,"labelPadding":2,"labelOverlap":false,"labelFlush":false,"domainWidth":1.5}},
     "y":{"field":"lo","type":"quantitative","scale":{"domain":[0,16],"nice":false},"axis":null},
     "y2":{"field":"hi"},
     "fill":{"field":"t","type":"quantitative","scale":{"type":"quantize","domain":[0,100],"nice":false,"zero":false,"range":["#7b22ff","#6a2dff","#4b4bff","#3c63ff","#2e79f2","#1f92ee","#00b4ea","#17c9e0","#33e2d8","#50f0c8","#66fac2","#8ff8a2","#b0f090","#d2e07e","#e2cc70","#ffb060","#ff9450","#ff7038","#ff4a28","#ff1818"]},"legend":null}}},
   {"data":{"name":"tm"},"mark":{"type":"line","color":"#1a1a1a","strokeWidth":0.8},"encoding":{
     "x":{"field":"h","type":"quantitative","scale":{"domain":[0,24],"nice":false},"axis":{"values":[2,4,6,8,10,12,14,16,18,20,22,24],"labelExpr":"datum.value % 4 == 0 ? datum.label : ''","title":null,"tickSize":5,"labelPadding":2,"labelOverlap":false,"labelFlush":false,"domainWidth":1.5}},
     "y":{"field":"hi","type":"quantitative","scale":{"domain":[0,16],"nice":false},"axis":null},"detail":{"field":"t","type":"nominal"}}},
   {"data":{"values":[{}]},"mark":{"type":"rule","color":"#333","strokeWidth":1.5},"encoding":{"y":{"datum":16,"type":"quantitative","axis":null}}},
   {"data":{"values":[{"lab":"March 15ᵗʰ"}]},"mark":{"type":"rect","color":"#c3c3c3"},"encoding":{
     "x":{"datum":0.1,"type":"quantitative","axis":{"values":[2,4,6,8,10,12,14,16,18,20,22,24],"labelExpr":"datum.value % 4 == 0 ? datum.label : ''","title":null,"tickSize":5,"labelPadding":2,"labelOverlap":false,"labelFlush":false,"domainWidth":1.5}},"x2":{"datum":8.9},
     "y":{"datum":16.43,"type":"quantitative","axis":null},"y2":{"datum":18.56}}},
   {"data":{"values":[{"lab":"March 15ᵗʰ"}]},"mark":{"type":"text","align":"left","baseline":"middle","fontSize":18,"color":"#111"},"encoding":{
     "x":{"datum":0.45,"type":"quantitative","axis":{"values":[2,4,6,8,10,12,14,16,18,20,22,24],"labelExpr":"datum.value % 4 == 0 ? datum.label : ''","title":null,"tickSize":5,"labelPadding":2,"labelOverlap":false,"labelFlush":false,"domainWidth":1.5}},
     "y":{"datum":17.49,"type":"quantitative","axis":null},"text":{"field":"lab"}}}
  ]},
  {"width":245.5,"height":225,"layer":[
   {"data":{"name":"tn"},"mark":{"type":"area","interpolate":"linear","opacity":1},"encoding":{
     "x":{"field":"h","type":"quantitative","scale":{"domain":[0,24],"nice":false},"axis":{"values":[2,4,6,8,10,12,14,16,18,20,22,24],"labelExpr":"datum.value % 4 == 0 ? datum.label : ''","title":null,"tickSize":5,"labelPadding":2,"labelOverlap":false,"labelFlush":false,"domainWidth":1.5}},
     "y":{"field":"lo","type":"quantitative","scale":{"domain":[0,16],"nice":false},"axis":null},
     "y2":{"field":"hi"},
     "fill":{"field":"t","type":"quantitative","scale":{"type":"quantize","domain":[0,100],"nice":false,"zero":false,"range":["#7b22ff","#6a2dff","#4b4bff","#3c63ff","#2e79f2","#1f92ee","#00b4ea","#17c9e0","#33e2d8","#50f0c8","#66fac2","#8ff8a2","#b0f090","#d2e07e","#e2cc70","#ffb060","#ff9450","#ff7038","#ff4a28","#ff1818"]},"legend":null}}},
   {"data":{"name":"tn"},"mark":{"type":"line","color":"#1a1a1a","strokeWidth":0.8},"encoding":{
     "x":{"field":"h","type":"quantitative","scale":{"domain":[0,24],"nice":false},"axis":{"values":[2,4,6,8,10,12,14,16,18,20,22,24],"labelExpr":"datum.value % 4 == 0 ? datum.label : ''","title":null,"tickSize":5,"labelPadding":2,"labelOverlap":false,"labelFlush":false,"domainWidth":1.5}},
     "y":{"field":"hi","type":"quantitative","scale":{"domain":[0,16],"nice":false},"axis":null},"detail":{"field":"t","type":"nominal"}}},
   {"data":{"values":[{}]},"mark":{"type":"rule","color":"#333","strokeWidth":1.5},"encoding":{"y":{"datum":16,"type":"quantitative","axis":null}}},
   {"data":{"values":[{"lab":"June 2ⁿᵈ"}]},"mark":{"type":"rect","color":"#c3c3c3"},"encoding":{
     "x":{"datum":0.1,"type":"quantitative","axis":{"values":[2,4,6,8,10,12,14,16,18,20,22,24],"labelExpr":"datum.value % 4 == 0 ? datum.label : ''","title":null,"tickSize":5,"labelPadding":2,"labelOverlap":false,"labelFlush":false,"domainWidth":1.5}},"x2":{"datum":6.8},
     "y":{"datum":16.43,"type":"quantitative","axis":null},"y2":{"datum":18.56}}},
   {"data":{"values":[{"lab":"June 2ⁿᵈ"}]},"mark":{"type":"text","align":"left","baseline":"middle","fontSize":18,"color":"#111"},"encoding":{
     "x":{"datum":0.42,"type":"quantitative","axis":{"values":[2,4,6,8,10,12,14,16,18,20,22,24],"labelExpr":"datum.value % 4 == 0 ? datum.label : ''","title":null,"tickSize":5,"labelPadding":2,"labelOverlap":false,"labelFlush":false,"domainWidth":1.5}},
     "y":{"datum":17.49,"type":"quantitative","axis":null},"text":{"field":"lab"}}}
  ]},
  {"width":245.5,"height":225,"layer":[
   {"layer":[
    {"data":{"name":"ts"},"mark":{"type":"area","interpolate":"linear","opacity":1},"encoding":{
      "x":{"field":"h","type":"quantitative","scale":{"domain":[0,24],"nice":false},"axis":{"values":[2,4,6,8,10,12,14,16,18,20,22,24],"labelExpr":"datum.value % 4 == 0 ? datum.label : ''","title":null,"tickSize":5,"labelPadding":2,"labelOverlap":false,"labelFlush":false,"domainWidth":1.5}},
      "y":{"field":"lo","type":"quantitative","scale":{"domain":[0,16],"nice":false},"axis":null},
      "y2":{"field":"hi"},
      "fill":{"field":"t","type":"quantitative","scale":{"type":"quantize","domain":[0,100],"nice":false,"zero":false,"range":["#7b22ff","#6a2dff","#4b4bff","#3c63ff","#2e79f2","#1f92ee","#00b4ea","#17c9e0","#33e2d8","#50f0c8","#66fac2","#8ff8a2","#b0f090","#d2e07e","#e2cc70","#ffb060","#ff9450","#ff7038","#ff4a28","#ff1818"]},"legend":null}}},
    {"data":{"name":"ts"},"mark":{"type":"line","color":"#1a1a1a","strokeWidth":0.8},"encoding":{
      "x":{"field":"h","type":"quantitative","scale":{"domain":[0,24],"nice":false},"axis":{"values":[2,4,6,8,10,12,14,16,18,20,22,24],"labelExpr":"datum.value % 4 == 0 ? datum.label : ''","title":null,"tickSize":5,"labelPadding":2,"labelOverlap":false,"labelFlush":false,"domainWidth":1.5}},
      "y":{"field":"hi","type":"quantitative","scale":{"domain":[0,16],"nice":false},"axis":null},"detail":{"field":"t","type":"nominal"}}},
    {"data":{"values":[{}]},"mark":{"type":"rule","color":"#333","strokeWidth":1.5},"encoding":{"y":{"datum":16,"type":"quantitative","axis":null}}},
    {"data":{"values":[{}]},"mark":{"type":"rule","color":"#333","strokeWidth":1.5},"encoding":{"x":{"datum":24,"type":"quantitative","axis":{"values":[2,4,6,8,10,12,14,16,18,20,22,24],"labelExpr":"datum.value % 4 == 0 ? datum.label : ''","title":null,"tickSize":5,"labelPadding":2,"labelOverlap":false,"labelFlush":false,"domainWidth":1.5}}}},
    {"data":{"values":[{"lab":"September 1ˢᵗ"}]},"mark":{"type":"rect","color":"#c3c3c3"},"encoding":{
      "x":{"datum":0,"type":"quantitative","axis":{"values":[2,4,6,8,10,12,14,16,18,20,22,24],"labelExpr":"datum.value % 4 == 0 ? datum.label : ''","title":null,"tickSize":5,"labelPadding":2,"labelOverlap":false,"labelFlush":false,"domainWidth":1.5}},"x2":{"datum":10.9},
      "y":{"datum":16.43,"type":"quantitative","axis":null},"y2":{"datum":18.56}}},
    {"data":{"values":[{"lab":"September 1ˢᵗ"}]},"mark":{"type":"text","align":"left","baseline":"middle","fontSize":18,"color":"#111"},"encoding":{
      "x":{"datum":0.4,"type":"quantitative","axis":{"values":[2,4,6,8,10,12,14,16,18,20,22,24],"labelExpr":"datum.value % 4 == 0 ? datum.label : ''","title":null,"tickSize":5,"labelPadding":2,"labelOverlap":false,"labelFlush":false,"domainWidth":1.5}},
      "y":{"datum":17.49,"type":"quantitative","axis":null},"text":{"field":"lab"}}}
   ]},
   {"layer":[
    {"data":{"name":"cbar"},"mark":{"type":"rect"},"encoding":{
      "x":{"datum":25.32,"type":"quantitative","scale":{"domain":[0,24],"nice":false},"axis":{"values":[2,4,6,8,10,12,14,16,18,20,22,24],"labelExpr":"datum.value % 4 == 0 ? datum.label : ''","title":null,"tickSize":5,"labelPadding":2,"labelOverlap":false,"labelFlush":false,"domainWidth":1.5}},"x2":{"datum":26.79},
      "y":{"field":"t","type":"quantitative","scale":{"domain":[0,100],"nice":false},"axis":{"orient":"right","offset":28.5,"values":[0,10,20,30,40,50,60,70,80,90,100],"ticks":false,"domain":false,"labelPadding":9,"labelOverlap":false,"title":"Temperature (°C)","titleAngle":270,"titleBaseline":"top","titlePadding":1}},
      "y2":{"field":"t2"},
      "fill":{"field":"t","type":"quantitative","scale":{"type":"quantize","domain":[0,100],"nice":false,"zero":false,"range":["#7b22ff","#6a2dff","#4b4bff","#3c63ff","#2e79f2","#1f92ee","#00b4ea","#17c9e0","#33e2d8","#50f0c8","#66fac2","#8ff8a2","#b0f090","#d2e07e","#e2cc70","#ffb060","#ff9450","#ff7038","#ff4a28","#ff1818"]},"legend":null}}},
    {"data":{"values":[{"t":0,"t2":100}]},"mark":{"type":"rect","fillOpacity":0,"stroke":"#333","strokeWidth":1},"encoding":{
      "x":{"datum":25.32,"type":"quantitative","axis":{"values":[2,4,6,8,10,12,14,16,18,20,22,24],"labelExpr":"datum.value % 4 == 0 ? datum.label : ''","title":null,"tickSize":5,"labelPadding":2,"labelOverlap":false,"labelFlush":false,"domainWidth":1.5}},"x2":{"datum":26.79},
      "y":{"field":"t","type":"quantitative","axis":{"orient":"right","offset":28.5,"values":[0,10,20,30,40,50,60,70,80,90,100],"ticks":false,"domain":false,"labelPadding":9,"labelOverlap":false,"title":"Temperature (°C)","titleAngle":270,"titleBaseline":"top","titlePadding":1}},"y2":{"field":"t2"}}}
   ]}
  ],"resolve":{"scale":{"y":"independent"}}},
 {"width":245.5,"height":225,"data":{"name":"bj"},"view":{"stroke":"#222","strokeWidth":1.5},
  "transform":[{"fold":["tt","tm","tb","mt","mm","mb"],"as":["k","v"]},{"filter":"isValid(datum.v)"}],
  "encoding":{"x":{"field":"h","type":"quantitative","scale":{"domain":[0,24],"nice":false},"axis":{"values":[2,4,6,8,10,12,14,16,18,20,22,24],"labelExpr":"datum.value % 4 == 0 ? datum.label : ''","title":null,"tickSize":5,"labelPadding":2,"domain":false}}},
  "layer":[
   {"transform":[{"filter":{"field":"k","oneOf":["tt","tm","tb"]}}],"mark":{"type":"line","strokeWidth":1.6},
    "encoding":{"y":{"field":"v","type":"quantitative","scale":{"domain":[0,100],"nice":false},"axis":{"values":[0,20,40,60,80,100],"title":"Inlet/outlet temperature (°C)","tickSize":5,"labelPadding":3,"titlePadding":7,"domain":false}},
     "stroke":{"field":"k","type":"nominal","scale":{"domain":["tt","tm","tb"],"range":["#ff1a1a","#1a1aff","#178a17"]},"legend":{"title":null,"orient":"none","legendX":5,"legendY":514,"direction":"horizontal","columns":3,"columnPadding":30,"symbolType":"stroke","symbolSize":2116,"symbolStrokeWidth":2,"labelOffset":4,"labelLimit":400,"labelExpr":"datum.label == 'tt' ? 'Temperature (top diffuser)' : datum.label == 'tm' ? 'Temperature (middle diffuser)' : 'Temperature (bottom diffuser)'"}}}},
   {"transform":[{"filter":{"field":"k","oneOf":["mt","mm","mb"]}}],"mark":{"type":"point","filled":false,"size":25,"strokeWidth":1,"opacity":0.9},
    "encoding":{"y":{"field":"v","type":"quantitative","scale":{"domain":[-152,152],"nice":false},"axis":null},
     "color":{"field":"k","type":"nominal","scale":{"domain":["mt","mm","mb"],"range":["#e05a5a","#3d8bcc","#4dbf85"]},"legend":{"title":null,"orient":"none","legendX":5,"legendY":554,"direction":"horizontal","columns":3,"columnPadding":26,"symbolType":"circle","symbolSize":25,"symbolStrokeWidth":1,"labelOffset":17,"labelLimit":400,"labelExpr":"datum.label == 'mt' ? 'Mass flow rate (top diffuser)' : datum.label == 'mm' ? 'Mass flow rate (middle diffuser)' : 'Massflow rate (bottom diffuser)'"}}}}
  ],"resolve":{"scale":{"y":"independent"}}},
 {"width":245.5,"height":225,"data":{"name":"bm"},"view":{"stroke":"#222","strokeWidth":1.5},
  "transform":[{"fold":["tt","tm","tb","mt","mm","mb"],"as":["k","v"]},{"filter":"isValid(datum.v)"}],
  "encoding":{"x":{"field":"h","type":"quantitative","scale":{"domain":[0,24],"nice":false},"axis":{"values":[2,4,6,8,10,12,14,16,18,20,22,24],"labelExpr":"datum.value % 4 == 0 ? datum.label : ''","title":null,"tickSize":5,"labelPadding":2,"domain":false}}},
  "layer":[
   {"transform":[{"filter":{"field":"k","oneOf":["tt","tm","tb"]}}],"mark":{"type":"line","strokeWidth":1.6},
    "encoding":{"y":{"field":"v","type":"quantitative","scale":{"domain":[0,100],"nice":false},"axis":null},
     "stroke":{"field":"k","type":"nominal","scale":{"domain":["tt","tm","tb"],"range":["#ff1a1a","#1a1aff","#178a17"]},"legend":{"title":null,"orient":"none","legendX":5,"legendY":514,"direction":"horizontal","columns":3,"columnPadding":30,"symbolType":"stroke","symbolSize":2116,"symbolStrokeWidth":2,"labelOffset":4,"labelLimit":400,"labelExpr":"datum.label == 'tt' ? 'Temperature (top diffuser)' : datum.label == 'tm' ? 'Temperature (middle diffuser)' : 'Temperature (bottom diffuser)'"}}}},
   {"transform":[{"filter":{"field":"k","oneOf":["mt","mm","mb"]}}],"mark":{"type":"point","filled":false,"size":25,"strokeWidth":1,"opacity":0.9},
    "encoding":{"y":{"field":"v","type":"quantitative","scale":{"domain":[-152,152],"nice":false},"axis":null},
     "color":{"field":"k","type":"nominal","scale":{"domain":["mt","mm","mb"],"range":["#e05a5a","#3d8bcc","#4dbf85"]},"legend":{"title":null,"orient":"none","legendX":5,"legendY":554,"direction":"horizontal","columns":3,"columnPadding":26,"symbolType":"circle","symbolSize":25,"symbolStrokeWidth":1,"labelOffset":17,"labelLimit":400,"labelExpr":"datum.label == 'mt' ? 'Mass flow rate (top diffuser)' : datum.label == 'mm' ? 'Mass flow rate (middle diffuser)' : 'Massflow rate (bottom diffuser)'"}}}}
  ],"resolve":{"scale":{"y":"independent"}}},
 {"width":245.5,"height":225,"data":{"name":"bn"},"view":{"stroke":"#222","strokeWidth":1.5},
  "transform":[{"fold":["tt","tm","tb","mt","mm","mb"],"as":["k","v"]},{"filter":"isValid(datum.v)"}],
  "encoding":{"x":{"field":"h","type":"quantitative","scale":{"domain":[0,24],"nice":false},"axis":{"values":[2,4,6,8,10,12,14,16,18,20,22,24],"labelExpr":"datum.value % 4 == 0 ? datum.label : ''","title":null,"tickSize":5,"labelPadding":2,"domain":false}}},
  "layer":[
   {"transform":[{"filter":{"field":"k","oneOf":["tt","tm","tb"]}}],"mark":{"type":"line","strokeWidth":1.6},
    "encoding":{"y":{"field":"v","type":"quantitative","scale":{"domain":[0,100],"nice":false},"axis":null},
     "stroke":{"field":"k","type":"nominal","scale":{"domain":["tt","tm","tb"],"range":["#ff1a1a","#1a1aff","#178a17"]},"legend":{"title":null,"orient":"none","legendX":5,"legendY":514,"direction":"horizontal","columns":3,"columnPadding":30,"symbolType":"stroke","symbolSize":2116,"symbolStrokeWidth":2,"labelOffset":4,"labelLimit":400,"labelExpr":"datum.label == 'tt' ? 'Temperature (top diffuser)' : datum.label == 'tm' ? 'Temperature (middle diffuser)' : 'Temperature (bottom diffuser)'"}}}},
   {"transform":[{"filter":{"field":"k","oneOf":["mt","mm","mb"]}}],"mark":{"type":"point","filled":false,"size":25,"strokeWidth":1,"opacity":0.9},
    "encoding":{"y":{"field":"v","type":"quantitative","scale":{"domain":[-152,152],"nice":false},"axis":null},
     "color":{"field":"k","type":"nominal","scale":{"domain":["mt","mm","mb"],"range":["#e05a5a","#3d8bcc","#4dbf85"]},"legend":{"title":null,"orient":"none","legendX":5,"legendY":554,"direction":"horizontal","columns":3,"columnPadding":26,"symbolType":"circle","symbolSize":25,"symbolStrokeWidth":1,"labelOffset":17,"labelLimit":400,"labelExpr":"datum.label == 'mt' ? 'Mass flow rate (top diffuser)' : datum.label == 'mm' ? 'Mass flow rate (middle diffuser)' : 'Massflow rate (bottom diffuser)'"}}}}
  ],"resolve":{"scale":{"y":"independent"}}},
 {"width":245.5,"height":225,"data":{"name":"bs"},"view":{"stroke":"#222","strokeWidth":1.5},
  "transform":[{"fold":["tt","tm","tb","mt","mm","mb"],"as":["k","v"]},{"filter":"isValid(datum.v)"}],
  "encoding":{"x":{"field":"h","type":"quantitative","scale":{"domain":[0,24],"nice":false},"axis":{"values":[2,4,6,8,10,12,14,16,18,20,22,24],"labelExpr":"datum.value % 4 == 0 ? datum.label : ''","title":null,"tickSize":5,"labelPadding":2,"domain":false}}},
  "layer":[
   {"transform":[{"filter":{"field":"k","oneOf":["tt","tm","tb"]}}],"mark":{"type":"line","strokeWidth":1.6},
    "encoding":{"y":{"field":"v","type":"quantitative","scale":{"domain":[0,100],"nice":false},"axis":null},
     "stroke":{"field":"k","type":"nominal","scale":{"domain":["tt","tm","tb"],"range":["#ff1a1a","#1a1aff","#178a17"]},"legend":{"title":null,"orient":"none","legendX":5,"legendY":514,"direction":"horizontal","columns":3,"columnPadding":30,"symbolType":"stroke","symbolSize":2116,"symbolStrokeWidth":2,"labelOffset":4,"labelLimit":400,"labelExpr":"datum.label == 'tt' ? 'Temperature (top diffuser)' : datum.label == 'tm' ? 'Temperature (middle diffuser)' : 'Temperature (bottom diffuser)'"}}}},
   {"transform":[{"filter":{"field":"k","oneOf":["mt","mm","mb"]}}],"mark":{"type":"point","filled":false,"size":25,"strokeWidth":1,"opacity":0.9},
    "encoding":{"y":{"field":"v","type":"quantitative","scale":{"domain":[-152,152],"nice":false},"axis":{"orient":"right","values":[-120,-80,-40,0,40,80,120],"title":"mass flow rate (kg/m³)","tickSize":4,"labelPadding":2,"titlePadding":3,"titleAngle":270,"titleBaseline":"top","domain":false}},
     "color":{"field":"k","type":"nominal","scale":{"domain":["mt","mm","mb"],"range":["#e05a5a","#3d8bcc","#4dbf85"]},"legend":{"title":null,"orient":"none","legendX":5,"legendY":554,"direction":"horizontal","columns":3,"columnPadding":26,"symbolType":"circle","symbolSize":25,"symbolStrokeWidth":1,"labelOffset":17,"labelLimit":400,"labelExpr":"datum.label == 'mt' ? 'Mass flow rate (top diffuser)' : datum.label == 'mm' ? 'Mass flow rate (middle diffuser)' : 'Massflow rate (bottom diffuser)'"}}}}
  ],"resolve":{"scale":{"y":"independent"}}}
],"columns":4,"spacing":{"row":38,"column":21.3},"bounds":"flush"
}
